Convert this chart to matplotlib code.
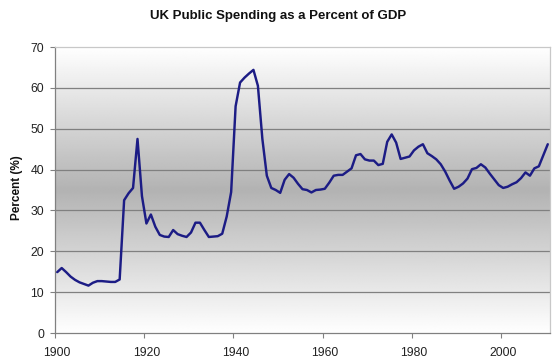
import numpy as np
import matplotlib
matplotlib.use('Agg')
import matplotlib.pyplot as plt

# data
years = list(range(1900, 2011))
spending = [14.9, 15.9, 14.9, 13.8, 13.0, 12.4, 12.0, 11.6, 12.3, 12.7,
            12.7, 12.6, 12.5, 12.5, 13.1, 32.5, 34.2, 35.5, 47.5, 33.5,
            26.8, 29.0, 26.0, 24.0, 23.6, 23.5, 25.2, 24.2, 23.8, 23.5,
            24.6, 27.0, 27.0, 25.2, 23.5, 23.6, 23.7, 24.3, 28.5, 34.5,
            55.5, 61.3, 62.5, 63.5, 64.4, 60.5, 47.5, 38.5, 35.5, 35.0,
            34.3, 37.5, 38.9, 38.0, 36.5, 35.2, 35.0, 34.4, 35.0, 35.1,
            35.3, 36.8, 38.5, 38.7, 38.7, 39.5, 40.3, 43.5, 43.8, 42.5,
            42.2, 42.2, 41.1, 41.4, 46.8, 48.6, 46.6, 42.6, 42.9, 43.2,
            44.7, 45.6, 46.2, 44.0, 43.3, 42.5, 41.3, 39.5, 37.3, 35.3,
            35.8, 36.6, 37.8, 40.1, 40.4, 41.3, 40.5, 39.0, 37.6, 36.2,
            35.5, 35.8, 36.4, 36.9, 37.9, 39.3, 38.5, 40.3, 40.8, 43.5,
            46.2]
label_years = [1900, 1920, 1940, 1960, 1980, 2000]
y_ticks = [0, 10, 20, 30, 40, 50, 60, 70]

plt.rcParams['font.family'] = ['Liberation Sans', 'DejaVu Sans']

fig = plt.figure(figsize=(5.53, 3.61), dpi=100)
ax = fig.add_axes([55/553, 28/361, 495/553, 286/361])

x0, x1 = years[0] - 0.5, years[-1] + 0.5

# excel style gradient background (white - grey - white)
yy = np.linspace(70, 0, 300)
shade = np.interp(yy, [0, 35, 70], [1.0, 0.70, 1.0])
ax.imshow(np.tile(shade[:, None], (1, 2)), cmap='gray', vmin=0, vmax=1,
          extent=[x0, x1, 0, 70], aspect='auto', zorder=0, interpolation='bilinear')

for v in y_ticks[1:-1]:
    ax.axhline(v, color='#808080', lw=0.9, zorder=1)

ax.plot(years, spending, color='#1c1c85', lw=1.75, zorder=3,
        solid_joinstyle='round', solid_capstyle='round')

ax.set_xlim(x0, x1)
ax.set_ylim(0, 70)

# category axis: ticks between categories, labels centred on the year
ax.set_xticks([y - 0.5 for y in label_years])
ax.set_xticklabels([])
ax.set_xticks(label_years, minor=True)
ax.set_xticklabels([str(y) for y in label_years], minor=True)
ax.tick_params(axis='x', which='major', length=3.5, width=0.8, color='#808080', direction='out')
ax.tick_params(axis='x', which='minor', length=0, pad=10, labelsize=8.8, labelcolor='#222222')

ax.set_yticks(y_ticks)
ax.tick_params(axis='y', length=3.6, width=0.8, color='#808080', pad=4.3,
               labelsize=8.8, labelcolor='#222222')

for s in ['left', 'bottom']:
    ax.spines[s].set_color('#808080')
    ax.spines[s].set_linewidth(0.9)
for s in ['top', 'right']:
    ax.spines[s].set_color('#c8c8c8')
    ax.spines[s].set_linewidth(0.9)

fig.text(0.503, 1 - 19/361, 'UK Public Spending as a Percent of GDP',
         ha='center', va='baseline', fontsize=9.5, fontweight='bold', color='#111111')
fig.text(17/553, 1 - 188/361, 'Percent (%)', rotation=90, ha='center', va='center',
         fontsize=8.5, fontweight='bold', color='#111111')

fig.savefig('out.png', dpi=100)
